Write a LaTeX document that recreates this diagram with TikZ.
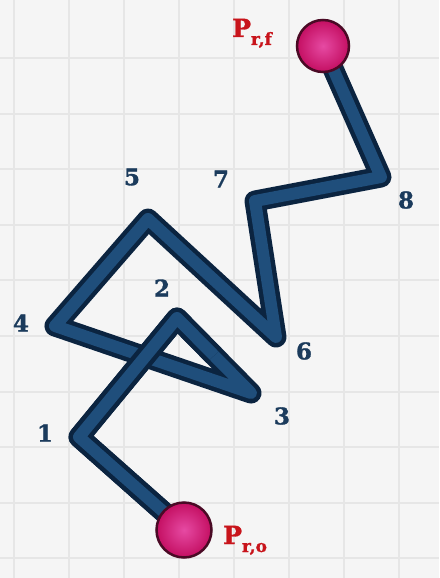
\documentclass[tikz,border=0pt]{standalone}
\usepackage{fontspec}
\setmainfont{DejaVu Serif}[BoldFeatures={FakeBold=1.3}]
\usepackage{xcolor}
\usetikzlibrary{calc}
\definecolor{paper}{HTML}{F5F5F5}
\definecolor{gridline}{HTML}{E6E6E6}
\definecolor{tubedark}{HTML}{0B2440}
\definecolor{tubelight}{HTML}{1F4E7B}
\definecolor{numblue}{HTML}{1B3B5C}
\definecolor{pred}{HTML}{C8141B}
\definecolor{ballhi}{HTML}{E64AA3}
\definecolor{ballmid}{HTML}{C40F62}
\definecolor{balledge}{HTML}{4A0A25}
\tikzset{
  num/.style    = {font=\bfseries\fontsize{23}{23}\selectfont, text=numblue, inner sep=0pt},
  plabel/.style = {font=\bfseries\fontsize{25}{25}\selectfont, text=pred, inner sep=0pt},
  ball/.style   = {circle, inner sep=0pt, draw=balledge, line width=2.5pt,
                   inner color=ballhi, outer color=ballmid},
  tubeout/.style = {line width=21pt, draw=tubedark, line join=round, line cap=round},
  tubein/.style  = {line width=12pt, draw=tubelight, line join=round, line cap=round,
                    shift={(-2.5,-2.5)}}
}
\newcommand{\psub}[1]{P\raisebox{-8pt}{\fontsize{17}{17}\selectfont #1}}

\begin{document}
\begin{tikzpicture}[x=1pt, y=-1pt]
  \useasboundingbox (0,0) rectangle (439,578);
  \fill[paper] (0,0) rectangle (439,578);
  % grid
  \foreach \i in {0,...,7}
    \draw[gridline, line width=2pt] ({14+55*\i},0) -- ({14+55*\i},578);
  \foreach \j in {0,...,9}
    \draw[gridline, line width=2pt] (0,{58+55.6*\j}) -- (439,{58+55.6*\j});

  % corners of the path
  \coordinate (c1) at (79,437);
  \coordinate (c2) at (177,318);
  \coordinate (c3) at (251,393);
  \coordinate (c4) at (55,326);
  \coordinate (c5) at (148,219);
  \coordinate (c6) at (276,337);
  \coordinate (c7) at (255,201);
  \coordinate (c8) at (381,177);
  \coordinate (s0) at (184,530);
  \coordinate (s9) at (323,46);

  \foreach \layer in {tubeout, tubein}
    \draw[\layer] (s0) -- (c1) -- (c2) -- (c3) -- (c4) -- (c5) -- (c6) -- (c7) -- (c8) -- (s9);
  % segment 1-2 passes over segment 3-4
  \foreach \layer in {tubeout, tubein}
    \draw[\layer, line cap=butt] (s0) -- (c1) -- (c2) -- ($(c2)!0.5!(c3)$);

  \node[ball, minimum size=55pt] (po) at (s0) {};
  \node[ball, minimum size=52pt] (pf) at (s9) {};

  \node[plabel, anchor=base west] (lo) at (223,544) {\psub{r,o}};
  \node[plabel, anchor=base west] (lf) at (232,37) {\psub{r,f}};

  \node[num] (n1) at (45,433) {1};
  \node[num] (n2) at (162,288) {2};
  \node[num] (n3) at (282,416) {3};
  \node[num] (n4) at (21,323) {4};
  \node[num] (n5) at (132,177) {5};
  \node[num] (n6) at (304,351) {6};
  \node[num] (n7) at (221,179) {7};
  \node[num] (n8) at (406,200) {8};
\end{tikzpicture}
\end{document}
